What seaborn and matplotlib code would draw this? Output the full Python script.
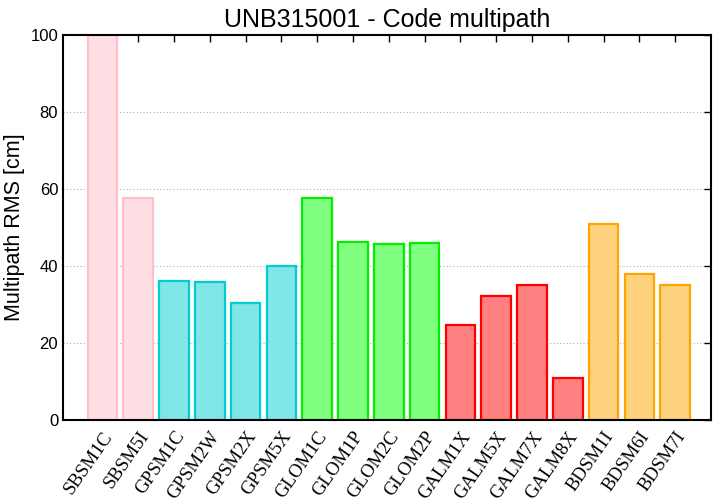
import matplotlib
matplotlib.use("Agg")
import matplotlib.pyplot as plt
import seaborn as sns
import pandas as pd

categories = ["SBSM1C", "SBSM5I", "GPSM1C", "GPSM2W", "GPSM2X", "GPSM5X",
              "GLOM1C", "GLOM1P", "GLOM2C", "GLOM2P",
              "GALM1X", "GALM5X", "GALM7X", "GALM8X",
              "BDSM1I", "BDSM6I", "BDSM7I"]
tick_labels = ["SBSM1C", "SBSM5I", "GPSM1C", "GPSM2W", "GPSM2X", "GPSM5X",
               "GLOM1C", "GLOM1P", "GLOM2C", "GLOM2P",
               "GALM1X", "GALM5X", "GALM7X", "GALM8X",
               "BDSM1I", "BDSM6I", "BDSM7I"]
values = [100.0, 57.7, 36.1, 35.8, 30.4, 40.0,
          57.7, 46.2, 45.7, 46.0,
          24.7, 32.3, 35.1, 11.0,
          50.9, 37.9, 35.1]
systems = ["SBS", "SBS", "GPS", "GPS", "GPS", "GPS",
           "GLO", "GLO", "GLO", "GLO",
           "GAL", "GAL", "GAL", "GAL",
           "BDS", "BDS", "BDS"]

fill_colors = {"SBS": "#ffdfe3", "GPS": "#80e6e8", "GLO": "#80ff80",
               "GAL": "#ff8080", "BDS": "#ffd280"}
edge_colors = {"SBS": "#ffc0cb", "GPS": "#00ced1", "GLO": "#00ee00",
               "GAL": "#ff0000", "BDS": "#ffa500"}

df = pd.DataFrame({"cat": categories, "val": values, "sys": systems})

sns.set_style("white")
plt.rcParams["font.family"] = ["Liberation Sans", "DejaVu Sans"]
plt.rcParams["text.color"] = "black"
plt.rcParams["axes.labelcolor"] = "black"
plt.rcParams["xtick.color"] = "black"
plt.rcParams["ytick.color"] = "black"

fig = plt.figure(figsize=(7.2, 5.04), dpi=100)
ax = fig.add_axes([0.0875, 0.1667, 0.9, 0.764])

pal = [fill_colors[s] for s in systems]
sns.barplot(data=df, x="cat", y="val", hue="cat", palette=pal, legend=False,
            width=0.83, ax=ax, saturation=1)

for p, s in zip(ax.patches, systems):
    p.set_edgecolor(edge_colors[s])
    p.set_linewidth(1.6)

ax.set_ylim(0, 100)
ax.set_xlim(-1.1, 17)
ax.set_yticks([0, 20, 40, 60, 80, 100])
ax.yaxis.grid(True, linestyle=(0, (1, 2)), color="#b0b0b0", linewidth=0.8)
ax.set_axisbelow(True)

ax.set_xticks(range(len(categories)))
ax.set_xticklabels(tick_labels, rotation=55, ha="right", va="top",
                   rotation_mode="anchor",
                   fontfamily="Liberation Serif", fontsize=13.5)
ax.tick_params(axis="both", direction="in", top=True, right=True, length=5,
               width=1, colors="black")
ax.tick_params(axis="y", labelsize=12)
ax.tick_params(axis="x", pad=6)

for sp in ax.spines.values():
    sp.set_visible(True)
    sp.set_color("black")
    sp.set_linewidth(1.5)

ax.set_xlabel("")
ax.set_ylabel("Multipath RMS [cm]", fontsize=15.5, color="black")
ax.yaxis.set_label_coords(-0.058, 0.5)
ax.set_title("UNB315001 - Code multipath", fontsize=18, pad=6, color="black")

fig.savefig("out.png", dpi=100)
